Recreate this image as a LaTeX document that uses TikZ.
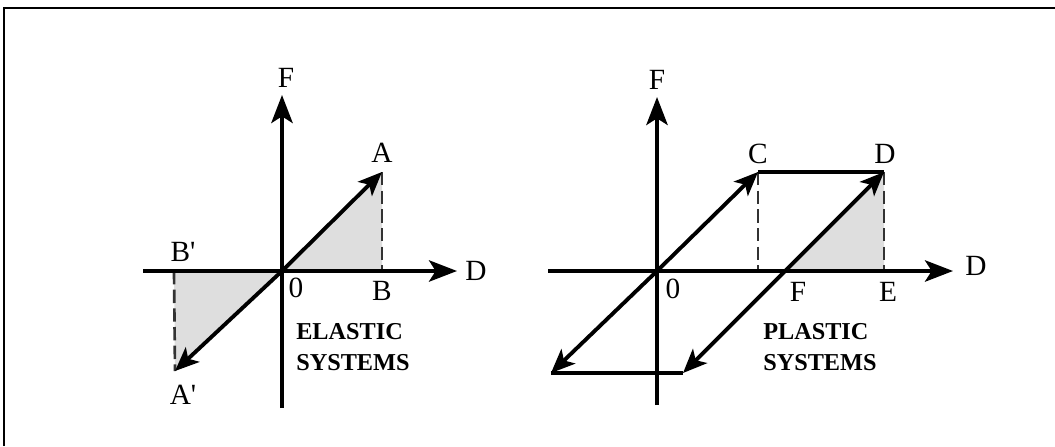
\documentclass[tikz,border=0pt]{standalone}
\usepackage{fontspec}
\setmainfont{Liberation Serif}
\usetikzlibrary{arrows.meta}
\begin{document}
\begin{tikzpicture}[x=0.75pt,y=-0.75pt,
  myhead/.tip={Stealth[length=18pt,width=15pt,inset=4.5pt]},
  bighead/.tip={Stealth[length=21pt,width=16pt,inset=5pt]},
  axis/.style={line width=2.9pt,-{bighead}},
  curve/.style={line width=2.9pt},
  dash line/.style={line width=2pt,dash pattern=on 10pt off 4pt,black!80},
  shade/.style={fill=black!13},
  lbl/.style={font=\fontsize{22}{26}\selectfont,inner sep=0pt},
  title/.style={font=\fontsize{18.2}{23.5}\selectfont\bfseries,inner sep=0pt,align=left,anchor=west}]
\useasboundingbox (0,0) rectangle (1055,446);
\coordinate (f0) at (4,446);
\coordinate (f1) at (4,8);
\coordinate (f2) at (1055,8);
\draw[line width=1.5pt] (f0) -- (f1) -- (f2);
% ---------- elastic ----------
\coordinate (O1) at (282,271);
\coordinate (H1a) at (143,271);
\coordinate (H1b) at (457,271);
\coordinate (V1a) at (282,408);
\coordinate (V1b) at (282,95);
\coordinate (A) at (382,172);
\coordinate (B) at (382,271);
\coordinate (Bp) at (174,271);
\coordinate (Ap) at (175,371);
\fill[shade] (O1) -- (A) -- (B) -- cycle;
\fill[shade] (O1) -- (Bp) -- (Ap) -- cycle;
\draw[dash line] (A) -- (B);
\draw[dash line] (Bp) -- (Ap);
\draw[axis] (H1a) -- (H1b);
\draw[axis] (V1a) -- (V1b);
\draw[curve,-{myhead}] (O1) -- (A);
\draw[curve,-{myhead}] (O1) -- (Ap);
\node[lbl] (lF1) at (286,78) {F};
\node[lbl] (lA) at (382,153) {A};
\node[lbl] (lB) at (382,291) {B};
\node[lbl] (lBp) at (183,252) {B\textquotesingle};
\node[lbl] (lAp) at (183,395) {A\textquotesingle};
\node[lbl] (l01) at (296,288) {0};
\node[lbl] (lD1) at (476,271) {D};
\node[title] (el) at (296,347) {ELASTIC\\SYSTEMS};
% ---------- plastic ----------
\coordinate (O2) at (657,271);
\coordinate (H2a) at (548,271);
\coordinate (H2b) at (953,271);
\coordinate (V2a) at (657,405);
\coordinate (V2b) at (657,97);
\coordinate (C) at (758,172);
\coordinate (D) at (884,172);
\coordinate (Fp) at (785,271);
\coordinate (E) at (884,271);
\coordinate (Cb) at (758,271);
\coordinate (BL) at (551,373);
\coordinate (BR) at (683,373);
\fill[shade] (Fp) -- (D) -- (E) -- cycle;
\draw[dash line] (C) -- (Cb);
\draw[dash line] (D) -- (E);
\draw[axis] (H2a) -- (H2b);
\draw[axis] (V2a) -- (V2b);
\draw[curve,-{myhead}] (O2) -- (C);
\draw[curve] (C) -- (D);
\draw[curve,-{myhead}] (O2) -- (BL);
\draw[curve,{myhead}-{myhead}] (BR) -- (D);
\draw[curve] (BL) -- (BR);
\node[lbl] (lF2) at (657,80) {F};
\node[lbl] (lC) at (758,154) {C};
\node[lbl] (lDp) at (885,154) {D};
\node[lbl] (lFp) at (798,292) {F};
\node[lbl] (lE) at (888,292) {E};
\node[lbl] (l02) at (673,289) {0};
\node[lbl] (lD2) at (976,266) {D};
\node[title] (pl) at (763,347) {PLASTIC\\SYSTEMS};
\end{tikzpicture}
\end{document}
